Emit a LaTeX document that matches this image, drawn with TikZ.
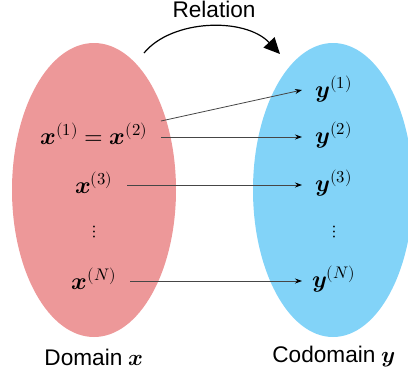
\documentclass[tikz,border=0pt]{standalone}
\usepackage{amsmath}
\usepackage{fontspec}
\usepackage{unicode-math}
\setmainfont{Liberation Sans}
\setmathfont{Latin Modern Math}
\usetikzlibrary{arrows.meta,calc}
\definecolor{domred}{RGB}{237,152,153}
\definecolor{codblue}{RGB}{130,211,248}
\definecolor{mapgray}{RGB}{70,70,70}
\tikzset{
  lab/.style={font=\fontsize{24}{28}\selectfont, inner ysep=0pt},
  dotslab/.style={font=\fontsize{18}{21}\selectfont, inner sep=0pt},
  caption/.style={font=\fontsize{22.7}{26}\selectfont, inner sep=0pt},
  maparrow/.style={draw=mapgray, line width=0.8bp, -{Stealth[length=7bp,width=5bp,black]}},
  relarrow/.style={draw=black, line width=1.2bp, -{Triangle[length=16bp,width=15bp]}}
}
\begin{document}
\begin{tikzpicture}[x=1bp,y=-1bp]
\useasboundingbox (0,0) rectangle (408,380);
\begin{scope}
  \clip (0,0) rectangle (408,380);
  \fill[domred] (94,190) ellipse [x radius=82, y radius=147];
  \fill[codblue] (333,190) ellipse [x radius=80, y radius=147];
\end{scope}
% labels
\node[caption] (rel) at (214,9) {Relation};
\node[caption] (dom) at (94,357) {Domain $\symbfit{x}$};
\node[caption] (cod) at (334,357) {Codomain $\symbfit{y}$};
% domain elements
\node[lab, inner xsep=0bp] (x12) at (94,134) {$\symbfit{x}^{(1)}=\symbfit{x}^{(2)}$};
\node[lab, inner xsep=0bp] (x3) at (94,183) {$\symbfit{x}^{(3)}$};
\node[dotslab] (xd) at (94,232) {$\vdots$};
\node[lab, inner xsep=0bp] (xN) at (94,279) {$\symbfit{x}^{(N)}$};
% codomain elements
\node[lab, inner xsep=0bp] (y1) at (334,89) {$\symbfit{y}^{(1)}$};
\node[lab, inner xsep=0bp] (y2) at (334,135) {$\symbfit{y}^{(2)}$};
\node[lab, inner xsep=0bp] (y3) at (334,183) {$\symbfit{y}^{(3)}$};
\node[dotslab] (yd) at (334,232) {$\vdots$};
\node[lab, inner xsep=0bp] (yN) at (334,279) {$\symbfit{y}^{(N)}$};
% mapping arrows
\coordinate (a1) at (161,121);
\coordinate (a2) at (161,137);
\coordinate (a3) at (127,185);
\coordinate (aN) at (130,281);
\coordinate (b1) at (302,90);
\coordinate (b2) at (302,137);
\coordinate (b3) at (302,185);
\coordinate (bN) at (302,281);
\draw[maparrow] (a1) -- (b1);
\draw[maparrow] (a2) -- (b2);
\draw[maparrow] (a3) -- (b3);
\draw[maparrow] (aN) -- (bN);
% relation arrow
\coordinate (rs) at (144,53);
\coordinate (re) at (280,54);
\draw[relarrow] (rs) .. controls (172,19) and (245,17) .. (re);
\end{tikzpicture}
\end{document}
